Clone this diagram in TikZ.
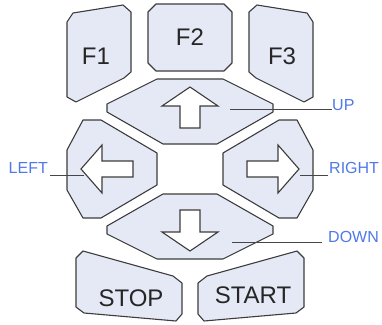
\documentclass[tikz,border=0pt]{standalone}
\usepackage{fontspec}
\setmainfont{Liberation Sans}
\definecolor{keyfill}{RGB}{228,233,245}
\definecolor{keyline}{RGB}{60,60,60}
\definecolor{lblblue}{RGB}{80,120,230}
\definecolor{leader}{RGB}{70,70,70}
\tikzset{
  keyshape/.style={fill=keyfill,draw=keyline,line width=1.1pt,line join=round},
  arrowshape/.style={fill=white,draw=keyline,line width=1.1pt,line join=miter},
  keytext/.style={font=\fontsize{24}{28}\selectfont,text=black!85,inner sep=0pt},
  lbl/.style={font=\fontsize{16}{19}\selectfont,text=lblblue,inner sep=0pt},
  leaderline/.style={draw=leader,line width=1pt}
}
\begin{document}
\begin{tikzpicture}[x=1pt,y=-1pt]
\useasboundingbox (0,0) rectangle (382,324);
% F keys
\draw[keyshape] (67,22) -- (73,13) -- (123,5) -- (131,12) -- (131,72) -- (124,78) -- (76,102) -- (67,97) -- cycle;
\draw[keyshape] (156,4) -- (224,4) -- (232,12) -- (232,63) -- (224,71) -- (156,71) -- (148,63) -- (148,12) -- cycle;
\draw[keyshape] (313,22) -- (307,13) -- (257,5) -- (249,12) -- (249,72) -- (256,78) -- (304,102) -- (313,97) -- cycle;
\node[keytext] (f1) at (96,56) {F1};
\node[keytext] (f2) at (190,37) {F2};
\node[keytext] (f3) at (282,56) {F3};
% direction keys
\draw[keyshape] (157,79) -- (223,79) -- (273,104) -- (273,112) -- (217,144) -- (163,144) -- (107,112) -- (107,104) -- cycle;
\draw[keyshape] (157,259) -- (223,259) -- (273,234) -- (273,226) -- (217,194) -- (163,194) -- (107,226) -- (107,234) -- cycle;
\draw[keyshape] (83,120) -- (101,120) -- (157,153) -- (157,185) -- (101,218) -- (83,218) -- (67,190) -- (67,150) -- cycle;
\draw[keyshape] (297,120) -- (279,120) -- (223,153) -- (223,185) -- (279,218) -- (297,218) -- (313,190) -- (313,150) -- cycle;
% arrows
\draw[arrowshape] (190,87) -- (218,106) -- (200,106) -- (200,128) -- (180,128) -- (180,106) -- (162,106) -- cycle;
\draw[arrowshape] (190,251) -- (218,232) -- (200,232) -- (200,210) -- (180,210) -- (180,232) -- (162,232) -- cycle;
\draw[arrowshape] (81,169) -- (102,145) -- (102,161) -- (133,161) -- (133,177) -- (102,177) -- (102,193) -- cycle;
\draw[arrowshape] (299,169) -- (278,145) -- (278,161) -- (247,161) -- (247,177) -- (278,177) -- (278,193) -- cycle;
% stop / start
\draw[keyshape] (76,258) -- (83,251) -- (173,276) -- (182,283) -- (182,314) -- (176,321) -- (84,313) -- (76,307) -- cycle;
\draw[keyshape] (304,258) -- (297,251) -- (207,276) -- (198,283) -- (198,314) -- (204,321) -- (296,313) -- (304,307) -- cycle;
\node[keytext] (stop) at (131,298) {STOP};
\node[keytext] (start) at (253,295) {START};
% labels
\node[lbl,anchor=west] (up) at (332,105.5) {UP};
\node[lbl,anchor=east] (left) at (48,167.5) {LEFT};
\node[lbl,anchor=west] (right) at (329,167.5) {RIGHT};
\node[lbl,anchor=west] (down) at (328,236.5) {DOWN};
\coordinate (upc) at (230,109);
\coordinate (leftc) at (84,175);
\coordinate (rightc) at (300,175);
\coordinate (downc) at (232,242);
\draw[leaderline] (upc) -- (upc -| up.west) ++(-3,0);
\draw[leaderline] (leftc) -- ([xshift=2pt]leftc -| left.east);
\draw[leaderline] (rightc) -- ([xshift=-1pt]rightc -| right.west);
\draw[leaderline] (downc) -- ([xshift=-6pt]downc -| down.west);
\end{tikzpicture}
\end{document}
